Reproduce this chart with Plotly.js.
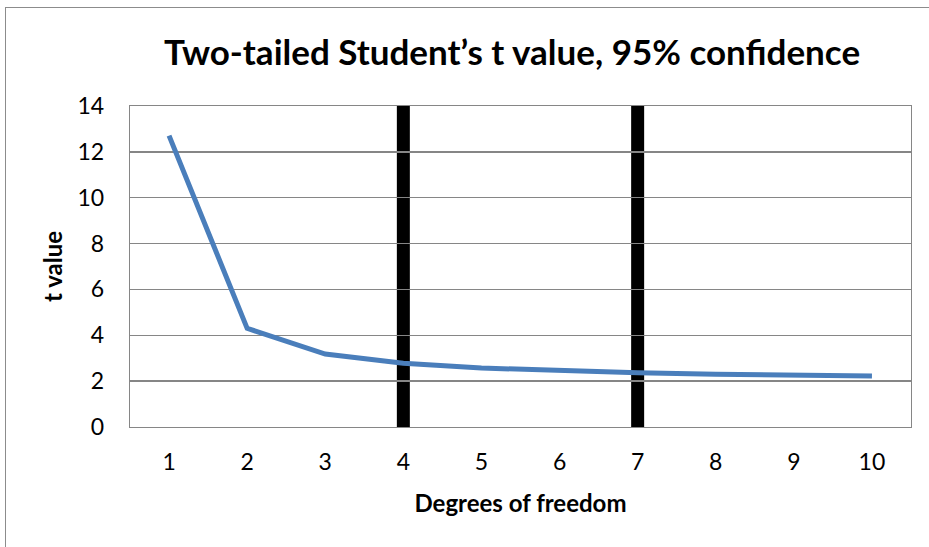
<!DOCTYPE html>
<html>
<head>
<meta charset="utf-8">
<script src="https://cdn.plot.ly/plotly-3.0.1.min.js"></script>
<style>
html,body{margin:0;padding:0;background:#fff;}
#wrap{position:relative;width:929px;height:547px;overflow:hidden;}
#frame{position:absolute;left:5px;top:7px;width:1000px;height:600px;border-left:1.5px solid #8c8c8c;border-top:1.5px solid #8c8c8c;pointer-events:none;z-index:2;}
#chart{position:absolute;left:0;top:0;width:929px;height:547px;}
</style>
</head>
<body>
<div id="wrap">
<div id="chart"></div>
<div id="frame"></div>
</div>
<script>
const degreesOfFreedom = [1, 2, 3, 4, 5, 6, 7, 8, 9, 10];
const tValues = [12.706, 4.303, 3.182, 2.776, 2.571, 2.447, 2.365, 2.306, 2.262, 2.228];
const markerDf = [4, 7];
const yTicks = [0, 2, 4, 6, 8, 10, 12, 14];

const FONT = 'Lato, "Open Sans", sans-serif';
const GRID = '#868686';

const traces = [{
  x: degreesOfFreedom,
  y: tValues,
  type: 'scatter',
  mode: 'lines',
  line: {color: '#4A7EBB', width: 5},
  hoverinfo: 'x+y',
  showlegend: false
}];

const shapes = markerDf.map(d => ({
  type: 'line', xref: 'x', yref: 'paper',
  x0: d, x1: d, y0: 0, y1: 1,
  line: {color: '#000000', width: 13},
  layer: 'below'
}));

const layout = {
  width: 929, height: 547,
  paper_bgcolor: '#ffffff', plot_bgcolor: '#ffffff',
  margin: {l: 130, r: 18, t: 106, b: 120},
  font: {family: FONT, color: '#000000'},
  title: {
    text: '<b>Two-tailed Student’s t value, 95% confidence</b>',
    font: {family: FONT, size: 35, color: '#000000'},
    xref: 'container', yref: 'container',
    x: 512 / 929, xanchor: 'center',
    y: 1 - 53 / 547, yanchor: 'middle'
  },
  xaxis: {
    range: [0.5, 10.5],
    tickvals: degreesOfFreedom,
    ticktext: degreesOfFreedom.map(String),
    showgrid: false, zeroline: false,
    showline: true, mirror: true, linecolor: GRID, linewidth: 1.3,
    ticks: 'outside', ticklen: 14, tickcolor: 'rgba(0,0,0,0)',
    tickfont: {family: FONT, size: 23, color: '#000000'},
    title: {text: '<b>Degrees of freedom</b>', font: {family: FONT, size: 24, color: '#000000'}, standoff: 21}
  },
  yaxis: {
    range: [0, 14],
    tickvals: yTicks,
    ticktext: yTicks.map(String),
    showgrid: true, gridcolor: GRID, gridwidth: 1.3,
    zeroline: false,
    showline: true, mirror: true, linecolor: GRID, linewidth: 1.3,
    ticks: 'outside', ticklen: 20, tickcolor: 'rgba(0,0,0,0)',
    tickfont: {family: FONT, size: 23, color: '#000000'},
    title: {text: '<b>t value</b>', font: {family: FONT, size: 24, color: '#000000'}, standoff: 8}
  },
  shapes: shapes
};

Plotly.newPlot('chart', traces, layout, {displayModeBar: false, staticPlot: true});
</script>
</body>
</html>
